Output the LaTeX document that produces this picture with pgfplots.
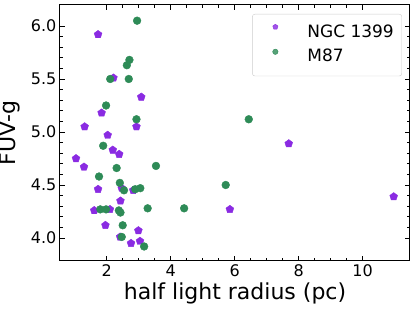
\documentclass[border=0pt]{standalone}
\usepackage{fontspec}
\setmainfont{DejaVu Sans}
\usepackage{pgfplots}
\pgfplotsset{compat=1.18}
\definecolor{ngc}{RGB}{138,43,226}
\definecolor{mse}{RGB}{46,139,87}
\begin{document}
\begin{tikzpicture}
\begin{axis}[
  scale only axis, width=350pt, height=256pt,
  xmin=0.54, xmax=11.48, ymin=3.783, ymax=6.198,
  xtick={2,4,6,8,10}, minor x tick num=3,
  ytick={4,4.5,5,5.5,6}, minor y tick num=4,
  yticklabel style={/pgf/number format/fixed, /pgf/number format/fixed zerofill, /pgf/number format/precision=1, inner xsep=3.5pt},
  /pgf/number format/assume math mode=true,
  tick label style={font=\fontsize{16}{18}\selectfont},
  tick align=inside,
  major tick length=5pt, minor tick length=2.8pt,
  every tick/.style={black, line width=0.8pt},
  axis line style={line width=1pt},
  xlabel={half light radius (pc)}, ylabel={FUV-g},
  label style={font=\fontsize{22}{24}\selectfont},
  xlabel style={at={(axis description cs:0.5,-0.152)}, anchor=base, inner sep=0pt},
  ylabel style={at={(axis description cs:-0.114,0.5)}, anchor=south, inner sep=0pt},
  legend cell align=left,
  legend image code/.code={\path[draw=none,fill=none] (0pt,0pt) -- (18pt,0pt); \draw[#1, mark size=2.7pt, draw=none] plot[only marks] coordinates {(15pt,6.2pt)};},
  legend style={at={(1,1)}, anchor=north east, xshift=-8pt, yshift=-9pt,
    font=\fontsize{17}{20}\selectfont, draw=black!20, fill=white, fill opacity=0.8, text opacity=1,
    rounded corners=2.5pt, inner xsep=8pt, inner ysep=10pt,
    nodes={inner sep=0pt, text height=12pt, text depth=4pt},
    /tikz/column sep=29pt, /tikz/row sep=8pt},
]
\addplot[only marks, mark=pentagon*, mark size=4.1pt, color=ngc, mark options={draw=ngc, fill=ngc}] coordinates {
(1.73,5.92) (2.21,5.51) (3.08,5.33) (1.84,5.18) (1.31,5.05) (2.93,5.05)
(2.03,4.97) (2.19,4.83) (2.39,4.79) (1.04,4.75) (1.29,4.67) (2.47,4.47)
(1.73,4.46) (2.83,4.45) (2.43,4.35) (1.61,4.26) (2.10,4.27) (5.85,4.27)
(1.96,4.12) (2.99,4.07) (2.42,4.01) (2.76,3.95) (3.04,3.97) (7.69,4.89)
(10.97,4.39)
};
\addlegendentry{NGC 1399}
\addplot[only marks, mark=*, mark size=3.9pt, color=mse, mark options={draw=mse, fill=mse}] coordinates {
(2.95,6.05) (2.71,5.68) (2.63,5.63) (2.11,5.50) (2.69,5.50) (1.98,5.25)
(2.93,5.12) (1.89,4.87) (2.31,4.66) (3.54,4.68) (1.76,4.58) (2.41,4.52)
(2.54,4.45) (2.89,4.46) (3.05,4.47) (5.72,4.50) (1.80,4.27) (1.98,4.27)
(2.38,4.26) (2.43,4.24) (3.28,4.28) (4.42,4.28) (2.50,4.12) (2.47,4.01)
(3.17,3.92) (6.44,5.12)
};
\addlegendentry{M87}
\end{axis}
\pgfresetboundingbox
\path[use as bounding box] (-60pt,-50pt) rectangle (356pt,261pt);
\end{tikzpicture}
\end{document}
